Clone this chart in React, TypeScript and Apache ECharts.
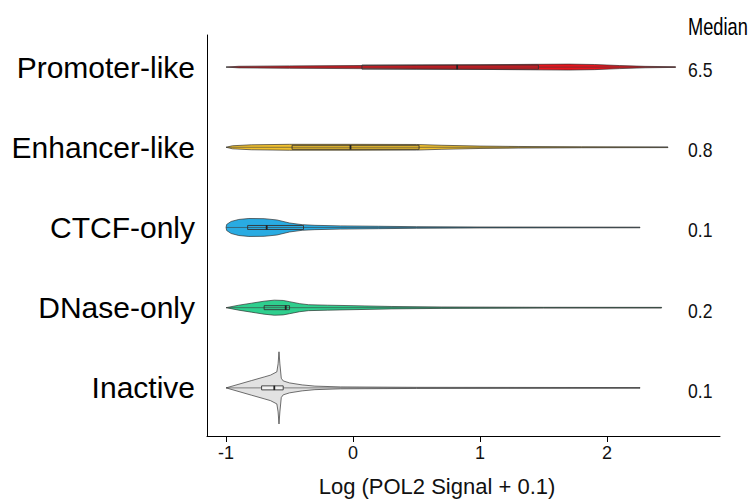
import React, { useEffect, useRef } from "react";
import * as echarts from "echarts";

const categories = ["Promoter-like", "Enhancer-like", "CTCF-only", "DNase-only", "Inactive"];
const medianLabels = ["6.5", "0.8", "0.1", "0.2", "0.1"];
const xTicks = [-1, 0, 1, 2];

// box statistics (log scale)
const q1 = [0.07, -0.48, -0.83, -0.7, -0.72];
const q2 = [0.82, -0.02, -0.68, -0.53, -0.62];
const q3 = [1.46, 0.52, -0.39, -0.5, -0.55];

// violin half-widths [x, half width in category units]
const promoterProfile = [[-1.0, 0], [-0.9, 0.01], [-0.5, 0.015], [0.0, 0.019], [0.5, 0.025], [1.0, 0.029], [1.4, 0.034], [1.7, 0.037], [1.9, 0.032], [2.1, 0.019], [2.3, 0.009], [2.54, 0.004]];
const enhancerProfile = [[-1.0, 0], [-0.95, 0.019], [-0.8, 0.031], [-0.5, 0.037], [0.0, 0.037], [0.5, 0.035], [0.7, 0.025], [1.0, 0.015], [1.3, 0.01], [1.8, 0.006], [2.48, 0.004]];
const ctcfProfile = [[-1.0, 0], [-0.995, 0.038], [-0.96, 0.075], [-0.9, 0.1], [-0.82, 0.112], [-0.7, 0.11], [-0.6, 0.094], [-0.5, 0.056], [-0.4, 0.035], [-0.3, 0.027], [-0.1, 0.02], [0.2, 0.015], [0.5, 0.01], [1.0, 0.006], [2.26, 0.004]];
const dnaseProfile = [[-1.0, 0], [-0.9, 0.031], [-0.8, 0.056], [-0.7, 0.081], [-0.62, 0.094], [-0.55, 0.09], [-0.5, 0.075], [-0.42, 0.05], [-0.35, 0.037], [-0.2, 0.031], [0.0, 0.025], [0.3, 0.015], [0.7, 0.009], [1.5, 0.005], [2.43, 0.004]];
const inactiveProfile = [[-1.0, 0], [-0.8, 0.091], [-0.7, 0.136], [-0.65, 0.159], [-0.6, 0.2], [-0.59, 0.3], [-0.583, 0.45], [-0.576, 0.3], [-0.565, 0.12], [-0.55, 0.087], [-0.5, 0.062], [-0.4, 0.037], [-0.3, 0.022], [-0.1, 0.012], [0.5, 0.007], [2.26, 0.004]];

const profiles = [promoterProfile, enhancerProfile, ctcfProfile, dnaseProfile, inactiveProfile];
const fills = ["#e8141c", "#f2c12e", "#29abe2", "#2fcf8e", "#e2e2e2"];
const boxFills = ["rgba(0,0,0,0)", "rgba(0,0,0,0)", "rgba(0,0,0,0)", "rgba(0,0,0,0)", "rgba(255,255,255,0.85)"];

const FONT = "'Liberation Sans', Arial, Helvetica, sans-serif";

export default function App() {
  const ref = useRef<HTMLDivElement>(null);
  useEffect(() => {
    if (!ref.current) return;
    const chart = echarts.init(ref.current, null, { renderer: "svg" });
    const renderItem = (params: any, api: any) => {
      const i = api.value(1);
      const prof = profiles[i];
      const upper = prof.map((p) => api.coord([p[0], i - p[1]]));
      const lower = prof.slice().reverse().map((p) => api.coord([p[0], i + p[1]]));
      const c = api.coord([0, i]);
      const cy = c[1];
      const xa = api.coord([prof[0][0], i])[0];
      const xb = api.coord([prof[prof.length - 1][0], i])[0];
      const b1 = api.coord([q1[i], i])[0];
      const b2 = api.coord([q2[i], i])[0];
      const b3 = api.coord([q3[i], i])[0];
      const cs = params.coordSys;
      return {
        type: "group",
        children: [
          {
            type: "polygon",
            shape: { points: upper.concat(lower) },
            style: { fill: fills[i], stroke: "rgba(45,45,45,0.85)", lineWidth: 0.8 },
          },
          {
            type: "line",
            shape: { x1: xa, y1: cy, x2: xb, y2: cy },
            style: { stroke: "rgba(60,60,60,0.75)", lineWidth: 0.8 },
          },
          {
            type: "rect",
            shape: { x: b1, y: cy - 2, width: b3 - b1, height: 4 },
            style: { fill: boxFills[i], stroke: "#333", lineWidth: 0.9 },
          },
          {
            type: "line",
            shape: { x1: b2, y1: cy - 2.2, x2: b2, y2: cy + 2.2 },
            style: { stroke: "#222", lineWidth: 1.8 },
          },
          {
            type: "text",
            x: cs.x + cs.width - 32,
            y: cy + 3,
            scaleX: 0.88,
            style: {
              text: medianLabels[i],
              fontSize: 20,
              fontFamily: FONT,
              fill: "#111",
              align: "left",
              verticalAlign: "middle",
              textAlign: "left",
              textVerticalAlign: "middle",
            },
          },
        ],
      };
    };
    chart.setOption({
      animation: false,
      grid: { left: 207, right: 33, top: 35, bottom: 63, containLabel: false },
      xAxis: {
        type: "value",
        min: -1.15,
        max: 2.89,
        axisLine: { show: true, onZero: false, lineStyle: { color: "#000", width: 1 } },
        axisTick: { show: true, length: 6, lineStyle: { color: "#000" }, customValues: xTicks },
        axisLabel: { fontSize: 18, color: "#111", fontFamily: FONT, margin: 8, customValues: xTicks },
        splitLine: { show: false },
      },
      yAxis: {
        type: "value",
        inverse: true,
        min: -0.4,
        max: 4.6,
        axisLine: { show: true, onZero: false, lineStyle: { color: "#000", width: 1 } },
        axisTick: { show: false },
        splitLine: { show: false },
        axisLabel: {
          fontSize: 30,
          color: "#000",
          fontFamily: FONT,
          margin: 12,
          customValues: [0, 1, 2, 3, 4],
          formatter: (v: number) => categories[Math.round(v)] ?? "",
        },
      },
      graphic: [
        {
          type: "text",
          x: 688,
          y: 27,
          scaleX: 0.76,
          style: { text: "Median", fontSize: 24, fontFamily: FONT, fill: "#000", textAlign: "left", textVerticalAlign: "middle", align: "left", verticalAlign: "middle" },
        },
        {
          type: "text",
          x: 437,
          y: 486,
          style: { text: "Log (POL2 Signal + 0.1)", fontSize: 22, fontFamily: FONT, fill: "#111", textAlign: "center", textVerticalAlign: "middle", align: "center", verticalAlign: "middle" },
        },
      ],
      series: [
        {
          type: "custom",
          renderItem,
          encode: { x: 0, y: 1 },
          data: categories.map((_, i) => [q2[i], i]),
          clip: false,
        },
      ],
    });
    return () => chart.dispose();
  }, []);
  return <div ref={ref} style={{ width: 753, height: 499, position: "absolute", left: 0, top: 0 }} />;
}
